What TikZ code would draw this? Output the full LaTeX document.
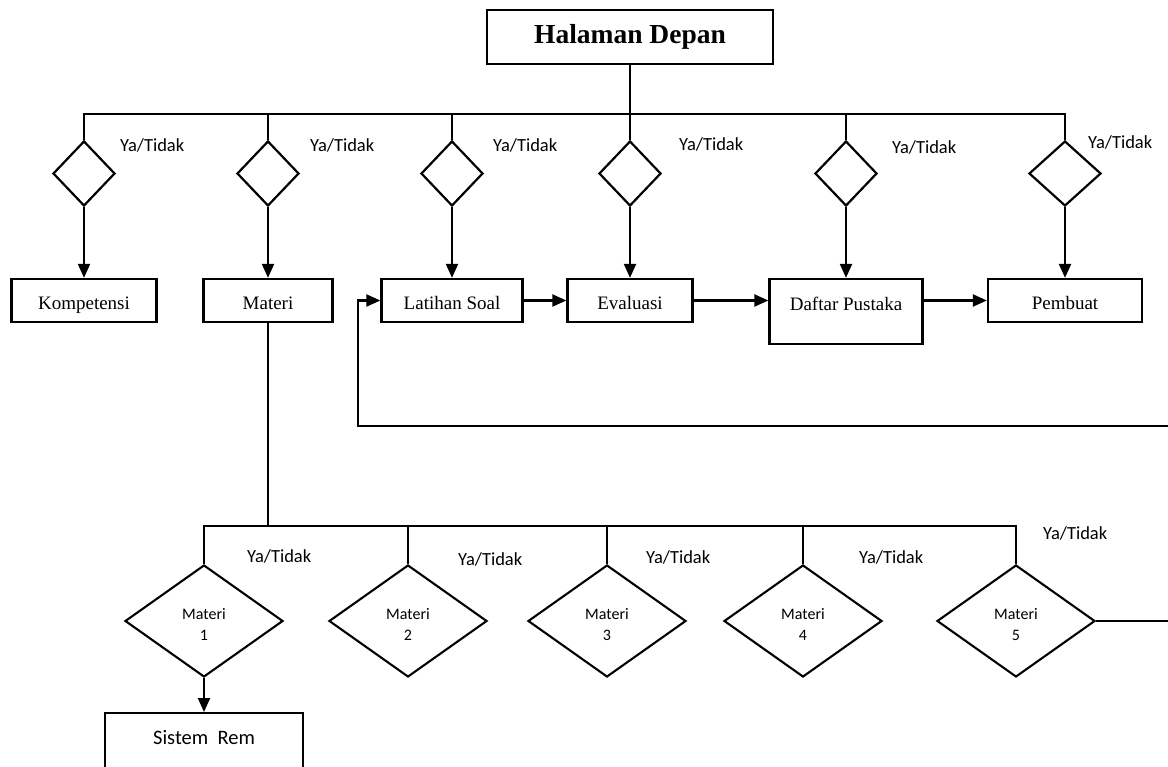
\documentclass[tikz,border=0pt]{standalone}
\usepackage{fontspec}
\setmainfont{Liberation Serif}
\newfontfamily\carl{Carlito}
\usetikzlibrary{shapes.geometric,arrows.meta}
\begin{document}
\begin{tikzpicture}[x=1pt,y=-1pt,
 box/.style={draw,line width=2.3pt,inner sep=0pt,font=\fontsize{19}{21}\selectfont,text height=20pt,text depth=2pt},
 dia/.style={draw,diamond,line width=2.2pt,inner sep=0pt,minimum width=62pt,minimum height=65pt},
 bdia/.style={draw,diamond,line width=2.1pt,inner sep=0pt,minimum width=158pt,minimum height=112pt,align=center,font=\carl\fontsize{16}{21}\selectfont,text height=40pt,text depth=2pt},
 yt/.style={anchor=west,inner sep=0pt,font=\carl\fontsize{18.5}{20}\selectfont},
 ln/.style={line width=2.2pt},
 arr/.style={line width=2.2pt,-{Triangle[length=14pt,width=12pt]}}]
\useasboundingbox (0,0) rectangle (1168,767);

% header
\node[box,minimum width=286pt,minimum height=54pt,text height=,text depth=,font=\bfseries\fontsize{27.5}{30}\selectfont] (hd) at (630,37) {Halaman Depan};

% top diamonds
\node[dia] (d1) at (84,173.5) {};
\node[dia] (d2) at (268,173.5) {};
\node[dia] (d3) at (452,173.5) {};
\node[dia] (d4) at (630,173.5) {};
\node[dia] (d5) at (846,173.5) {};
\node[dia,minimum width=72pt] (d6) at (1065,173.5) {};

\coordinate (tl) at (84,114);
\coordinate (tr) at (1065,114);
\draw[ln] (d1.north) -- (tl) -- (tr) -- (d6.north);
\draw[ln] (d2.north) -- (d2.north |- tl);
\draw[ln] (d3.north) -- (d3.north |- tl);
\draw[ln] (d5.north) -- (d5.north |- tl);
\draw[ln] (hd.south) -- (d4.north);

% labels Ya/Tidak top
\node[yt] (y1) at (120,145) {Ya/Tidak};
\node[yt] (y2) at (310,145) {Ya/Tidak};
\node[yt] (y3) at (493,145) {Ya/Tidak};
\node[yt] (y4) at (679,144) {Ya/Tidak};
\node[yt] (y5) at (892,147) {Ya/Tidak};
\node[yt] (y6) at (1088,142) {Ya/Tidak};

% boxes
\node[box,minimum width=145pt,minimum height=43pt] (komp) at (84,300.5) {Kompetensi};
\node[box,minimum width=129pt,minimum height=43pt] (mat) at (268,300.5) {Materi};
\node[box,minimum width=141pt,minimum height=43pt] (lat) at (452,300.5) {Latihan Soal};
\node[box,minimum width=125pt,minimum height=43pt] (eva) at (630,300.5) {Evaluasi};
\node[box,minimum width=153pt,minimum height=65pt,text height=16pt,text depth=18pt] (daf) at (846,311.5) {Daftar Pustaka};
\node[box,minimum width=154pt,minimum height=43pt] (pem) at (1065,300.5) {Pembuat};

\draw[arr] (d1.south) -- (komp.north);
\draw[arr] (d2.south) -- (mat.north);
\draw[arr] (d3.south) -- (lat.north);
\draw[arr] (d4.south) -- (eva.north);
\draw[arr] (d5.south) -- (daf.north);
\draw[arr] (d6.south) -- (pem.north);

\draw[arr] (lat.east) -- (eva.west);
\draw[arr] (eva.east) -- (eva.east -| daf.west);
\draw[arr] (daf.east |- pem.west) -- (pem.west);

% loop back
\coordinate (lr) at (1168,426);
\coordinate (lc) at (358,426);
\draw[arr] (lr) -- (lc) |- (lat.west);

% bottom diamonds
\node[bdia] (m1) at (204,621) {Materi\\1};
\node[bdia] (m2) at (408,621) {Materi\\2};
\node[bdia] (m3) at (607,621) {Materi\\3};
\node[bdia] (m4) at (803,621) {Materi\\4};
\node[bdia] (m5) at (1016,621) {Materi\\5};

\coordinate (bm) at (268,526);
\draw[ln] (mat.south) -- (bm);
\draw[ln] (m1.north) -- (m1.north |- bm) -- (m5.north |- bm) -- (m5.north);
\draw[ln] (m2.north) -- (m2.north |- bm);
\draw[ln] (m3.north) -- (m3.north |- bm);
\draw[ln] (m4.north) -- (m4.north |- bm);

\coordinate (rr) at (1168,621);
\draw[ln] (m5.east) -- (rr);

% bottom labels
\node[yt] (z1) at (247,556) {Ya/Tidak};
\node[yt] (z2) at (458,559) {Ya/Tidak};
\node[yt] (z3) at (646,557) {Ya/Tidak};
\node[yt] (z4) at (859,557) {Ya/Tidak};
\node[yt] (z5) at (1043,533) {Ya/Tidak};

% Sistem Rem
\node[box,anchor=north,minimum width=198pt,minimum height=62pt,font=\carl\fontsize{20.5}{22}\selectfont,text height=14pt,text depth=14pt] (sr) at (204,712) {Sistem\ \ Rem};
\draw[arr] (m1.south) -- (sr.north);
\end{tikzpicture}
\end{document}
